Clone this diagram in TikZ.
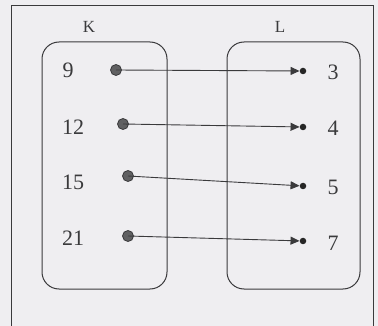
\documentclass[tikz,border=0pt]{standalone}
\usepackage{fontspec}
\setmainfont{Liberation Serif}
\usetikzlibrary{arrows.meta,positioning,calc}
\definecolor{paper}{HTML}{EFEEF1}
\definecolor{ink}{HTML}{3A3A3C}
\definecolor{dotgray}{HTML}{606062}
\tikzset{
  setbox/.style={
    draw=ink,
    line width=1pt,
    rounded corners=17pt,
    minimum width=#1,
    minimum height=247pt,
    inner sep=0pt
  },
  setname/.style={font=\fontsize{17}{19}\selectfont,text=ink},
  elem/.style={font=\fontsize{22}{25}\selectfont,text=ink,inner sep=0pt},
  srcdot/.style={circle,draw=ink,fill=dotgray,line width=0.8pt,minimum size=11pt,inner sep=0pt},
  dstdot/.style={circle,fill=black!85,minimum size=6.5pt,inner sep=0pt},
  maparrow/.style={-{Triangle[length=9pt,width=8pt]},line width=0.9pt,draw=ink}
}
\begin{document}
\begin{tikzpicture}[x=1pt,y=-1pt]
\useasboundingbox[fill=paper] (0,0) rectangle (378,326);
\draw[ink,line width=1pt] (11,326) -- (11,6) -- (373,6) -- (373,326);
% the two sets
\node[setbox=125pt] (boxK) at (104.5,165.5) {};
\node[setbox=133pt] (boxL) at (293.5,165.5) {};
\node[setname] (nameK) at (89,27) {K};
\node[setname] (nameL) at (280,27) {L};
% elements of K
\node[elem] (k9) at (68,70) {9};
\node[elem] (k12) at (73,127) {12};
\node[elem] (k15) at (73,182) {15};
\node[elem] (k21) at (73,238) {21};
\node[srcdot] (d9) at (116,70) {};
\node[srcdot] (d12) at (123,124) {};
\node[srcdot] (d15) at (128,176) {};
\node[srcdot] (d21) at (128,236) {};
% elements of L
\node[elem] (l3) at (333,72) {3};
\node[elem] (l4) at (333,128) {4};
\node[elem] (l5) at (333,187) {5};
\node[elem] (l7) at (333,243) {7};
\node[dstdot] (e3) at (303,71) {};
\node[dstdot] (e4) at (303,127) {};
\node[dstdot] (e5) at (303,186) {};
\node[dstdot] (e7) at (303,241) {};
% mapping
\draw[maparrow] (d9.center) -- (e3);
\draw[maparrow] (d12.center) -- (e4);
\draw[maparrow] (d15.center) -- (e5);
\draw[maparrow] (d21.center) -- (e7);
\end{tikzpicture}
\end{document}
